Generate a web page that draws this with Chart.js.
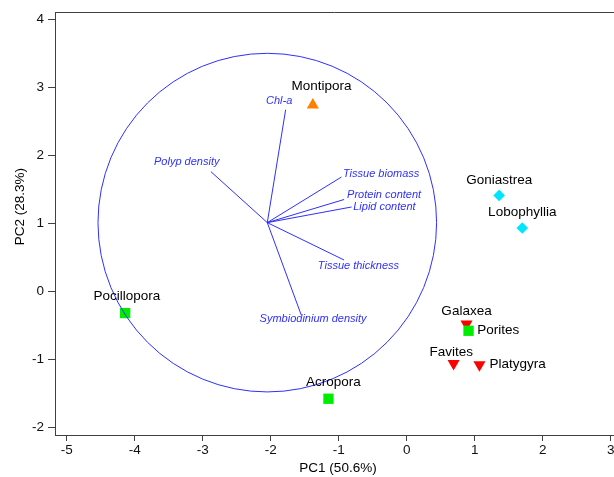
<!DOCTYPE html>
<html>
<head>
<meta charset="utf-8">
<script src="https://cdn.jsdelivr.net/npm/chart.js@4.4.1/dist/chart.umd.min.js"></script>
<style>
  html, body { margin: 0; padding: 0; background: #ffffff; }
  #wrap { width: 614px; height: 477px; }
</style>
</head>
<body>
<div id="wrap"><canvas id="pca" width="614" height="477"></canvas></div>
<script>
// PCA scores (PC1, PC2) of each coral genus, grouped by marker
const squareTaxa = ['Pocillopora', 'Acropora', 'Porites'];
const squarePC1  = [-4.14, -1.15, 0.91];
const squarePC2  = [-0.32, -1.58, -0.58];

const downTriTaxa = ['Galaxea', 'Favites', 'Platygyra'];
const downTriPC1  = [0.88, 0.69, 1.07];
const downTriPC2  = [-0.48, -1.06, -1.08];

const diamondTaxa = ['Goniastrea', 'Lobophyllia'];
const diamondPC1  = [1.36, 1.70];
const diamondPC2  = [1.41, 0.93];

const upTriTaxa = ['Montipora'];
const upTriPC1  = [-1.38];
const upTriPC2  = [2.74];

// Trait loadings, drawn from the centre of the correlation circle
const loadingNames = ['Chl-a', 'Polyp density', 'Tissue biomass', 'Protein content',
                      'Lipid content', 'Tissue thickness', 'Symbiodinium density'];
const loadingPC1 = [-1.78, -2.88, -0.96, -0.92, -0.81, -0.92, -1.55];
const loadingPC2 = [2.67, 1.76, 1.68, 1.35, 1.24, 0.46, -0.35];
const circleCentre = [-2.05, 1.01];
const circleRadius = 2.49;

// Axis ticks
const xTicks = [-5, -4, -3, -2, -1, 0, 1, 2, 3];
const yTicks = [-2, -1, 0, 1, 2, 3, 4];
const xTitle = 'PC1 (50.6%)';
const yTitle = 'PC2 (28.3%)';

// Label placement around marks (pixel offsets and alignment)
const taxonLabelPlacement = {
  'Montipora':   { dx: 8.7,  dy: -18.5, align: 'center' },
  'Goniastrea':  { dx: 0,    dy: -15.5, align: 'center' },
  'Lobophyllia': { dx: 0,    dy: -15.8, align: 'center' },
  'Galaxea':     { dx: 0,    dy: -12.3, align: 'center' },
  'Porites':     { dx: 8.6,  dy: 0,     align: 'left' },
  'Favites':     { dx: -2.3, dy: -11.6, align: 'center' },
  'Platygyra':   { dx: 10,   dy: 0,     align: 'left' },
  'Pocillopora': { dx: 1.7,  dy: -17,   align: 'center' },
  'Acropora':    { dx: 5,    dy: -16,   align: 'center' }
};
const loadingLabelPlacement = {
  'Chl-a':                { dx: -6.5,  dy: -8.3, align: 'center' },
  'Polyp density':        { dx: 8.6,   dy: -9.4, align: 'right' },
  'Tissue biomass':       { dx: 1.6,   dy: -3.3, align: 'left' },
  'Protein content':      { dx: 3,     dy: -4.3, align: 'left' },
  'Lipid content':        { dx: 1.6,   dy: -0.4, align: 'left' },
  'Tissue thickness':     { dx: -26.3, dy: 6,    align: 'left' },
  'Symbiodinium density': { dx: -41.7, dy: 4,    align: 'left' }
};

const FONT = "Arial, 'Liberation Sans', sans-serif";
const BLUE = '#2f2fff';
const AXIS = '#404040';

function points(xs, ys) { return xs.map((x, i) => ({ x: x, y: ys[i] })); }

const loadingSets = loadingNames.map((name, i) => ({
  label: name,
  kind: 'loading',
  data: [{ x: circleCentre[0], y: circleCentre[1] }, { x: loadingPC1[i], y: loadingPC2[i] }],
  showLine: true,
  borderColor: BLUE,
  borderWidth: 1,
  pointRadius: 0,
  fill: false
}));

const taxonSets = [
  { label: 'square', kind: 'taxa', names: squareTaxa, data: points(squarePC1, squarePC2),
    pointStyle: 'rect', pointRadius: 7.3, backgroundColor: '#00ec00', borderWidth: 0 },
  { label: 'downTri', kind: 'taxa', names: downTriTaxa, data: points(downTriPC1, downTriPC2),
    pointStyle: 'triangle', pointRotation: 180, pointRadius: 7, backgroundColor: '#ff0000', borderWidth: 0 },
  { label: 'diamond', kind: 'taxa', names: diamondTaxa, data: points(diamondPC1, diamondPC2),
    pointStyle: 'rectRot', pointRadius: 5.8, backgroundColor: '#00e5ff', borderWidth: 0 },
  { label: 'upTri', kind: 'taxa', names: upTriTaxa, data: points(upTriPC1, upTriPC2),
    pointStyle: 'triangle', pointRadius: 7, backgroundColor: '#ff8000', borderWidth: 0 }
];

// Correlation circle, top frame line, titles and text labels
const biplotDecor = {
  id: 'biplotDecor',
  afterDatasetsDraw(chart) {
    const ctx = chart.ctx;
    const xs = chart.scales.x, ys = chart.scales.y;
    const area = chart.chartArea;

    // correlation circle
    const cx = xs.getPixelForValue(circleCentre[0]);
    const cy = ys.getPixelForValue(circleCentre[1]);
    const r = xs.getPixelForValue(circleCentre[0] + circleRadius) - cx;
    ctx.save();
    ctx.strokeStyle = BLUE;
    ctx.lineWidth = 1;
    ctx.beginPath();
    ctx.arc(cx, cy, r, 0, Math.PI * 2);
    ctx.stroke();

    // top frame line
    ctx.strokeStyle = AXIS;
    ctx.beginPath();
    ctx.moveTo(area.left, Math.round(area.top) + 0.5);
    ctx.lineTo(chart.width, Math.round(area.top) + 0.5);
    ctx.stroke();

    // loading labels
    ctx.font = 'italic 11px ' + FONT;
    ctx.fillStyle = BLUE;
    ctx.textBaseline = 'middle';
    loadingNames.forEach((name, i) => {
      const p = loadingLabelPlacement[name];
      ctx.textAlign = p.align;
      ctx.fillText(name, xs.getPixelForValue(loadingPC1[i]) + p.dx, ys.getPixelForValue(loadingPC2[i]) + p.dy);
    });

    // taxon labels
    ctx.font = '13.5px ' + FONT;
    ctx.fillStyle = '#000000';
    chart.data.datasets.forEach((ds, di) => {
      if (ds.kind !== 'taxa') return;
      const meta = chart.getDatasetMeta(di);
      meta.data.forEach((el, j) => {
        const name = ds.names[j];
        const p = taxonLabelPlacement[name];
        ctx.textAlign = p.align;
        ctx.fillText(name, el.x + p.dx, el.y + p.dy);
      });
    });

    // axis titles
    ctx.fillStyle = '#000000';
    ctx.textAlign = 'center';
    ctx.fillText(xTitle, 338, 467.8);
    ctx.translate(20.5, 206.7);
    ctx.rotate(-Math.PI / 2);
    ctx.fillText(yTitle, 0, 0);
    ctx.restore();
  }
};

const XMIN = -5.172, XMAX = 3.049, YMIN = -2.113, YMAX = 4.107;

new Chart(document.getElementById('pca'), {
  type: 'scatter',
  data: { datasets: [...loadingSets, ...taxonSets] },
  options: {
    responsive: false,
    animation: false,
    devicePixelRatio: 1,
    layout: { autoPadding: false, padding: { top: 12, left: 0, right: 0, bottom: 0 } },
    plugins: { legend: { display: false }, tooltip: { enabled: false } },
    events: [],
    scales: {
      x: {
        type: 'linear', position: 'bottom', min: XMIN, max: XMAX,
        afterBuildTicks: s => { s.ticks = xTicks.map(v => ({ value: v })); },
        afterFit: s => { s.height = 42; s.paddingLeft = 0; s.paddingRight = 0; },
        grid: { drawOnChartArea: false, drawTicks: true, tickLength: 6, color: AXIS, tickColor: AXIS },
        border: { display: true, color: AXIS, width: 1 },
        ticks: { font: { family: FONT, size: 13.5 }, color: '#111111', padding: 1, maxRotation: 0,
                  callback: v => String(v) }
      },
      y: {
        type: 'linear', position: 'left', min: YMIN, max: YMAX,
        afterBuildTicks: s => { s.ticks = yTicks.map(v => ({ value: v })); },
        afterFit: s => { s.width = 55; s.paddingTop = 0; s.paddingBottom = 0; },
        grid: { drawOnChartArea: false, drawTicks: true, tickLength: 7, color: AXIS, tickColor: AXIS },
        border: { display: true, color: AXIS, width: 1 },
        ticks: { font: { family: FONT, size: 13.5 }, color: '#111111', padding: 4,
                  callback: v => String(v) }
      }
    }
  },
  plugins: [biplotDecor]
});
</script>
</body>
</html>
